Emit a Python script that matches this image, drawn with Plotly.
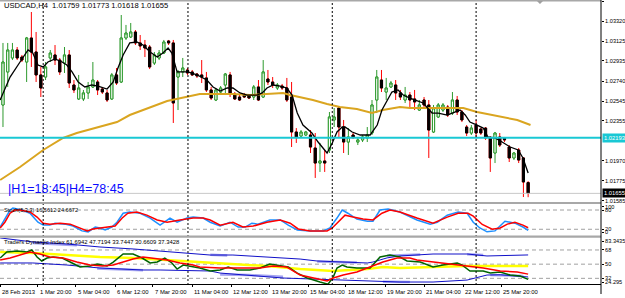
import plotly.graph_objects as go

# ---------------- data (H4 bars, index 0 = 28 Feb 2013 12:00) ----------------
opens = [1.02509,1.02828,1.02963,1.03040,1.02972,1.02924,1.03156,1.03021,1.02799,1.02779,
         1.02963,1.02992,1.02943,1.02914,1.02992,1.02702,1.02567,1.02567,1.02625,1.02683,
         1.02731,1.02663,1.02625,1.02567,1.02799,1.02731,1.03156,1.03166,1.03214,1.03108,
         1.03088,1.03069,1.02914,1.02963,1.03011,1.03127,1.03108,1.02779,1.02828,1.02847,
         1.02828,1.02808,1.02799,1.02770,1.02654,1.02557,1.02634,1.02702,1.02799,1.02615,
         1.02586,1.02605,1.02605,1.02586,1.02683,1.02586,1.02760,1.02731,1.02673,1.02692,
         1.02673,1.02586,1.02248,1.02209,1.02219,1.02219,1.02093,1.01948,1.01968,1.02074,
         1.02364,1.02480,1.02296,1.02151,1.02219,1.02151,1.02171,1.02190,1.02238,1.02557,
         1.02750,1.02634,1.02683,1.02702,1.02625,1.02557,1.02605,1.02567,1.02460,1.02557,
         1.02509,1.02248,1.02393,1.02460,1.02489,1.02431,1.02557,1.02441,1.02296,1.02238,
         1.02315,1.02277,1.02286,1.02190,1.02045,1.02200,1.02190,1.02103,1.01997,1.02074,
         1.01997,1.01759]
highs = [1.03108,1.03108,1.03108,1.03069,1.02992,1.03166,1.03407,1.03214,1.02876,1.02924,
         1.03040,1.03088,1.02963,1.03069,1.03040,1.02750,1.02799,1.02654,1.02731,1.02924,
         1.02750,1.02683,1.02654,1.02818,1.02866,1.03378,1.03282,1.03301,1.03233,1.03185,
         1.03137,1.03088,1.03021,1.03040,1.03137,1.03137,1.03137,1.02847,1.02963,1.02866,
         1.02847,1.02818,1.02943,1.02828,1.02683,1.02673,1.02692,1.02818,1.02828,1.02634,
         1.02605,1.02625,1.02615,1.02702,1.02750,1.02943,1.02847,1.02779,1.02721,1.02712,
         1.02770,1.02731,1.02286,1.02267,1.02258,1.02267,1.02238,1.02142,1.02074,1.02441,
         1.02480,1.02489,1.02364,1.02286,1.02238,1.02200,1.02219,1.02296,1.02557,1.02847,
         1.02847,1.02770,1.02741,1.02750,1.02654,1.02683,1.02634,1.02654,1.02557,1.02586,
         1.02557,1.02509,1.02528,1.02528,1.02509,1.02634,1.02596,1.02460,1.02315,1.02315,
         1.02364,1.02286,1.02296,1.02209,1.02248,1.02238,1.02200,1.02122,1.02055,1.02093,
         1.02006,1.01773]
lows = [1.02296,1.02683,1.02943,1.02943,1.02924,1.02731,1.02876,1.02731,1.02586,1.02750,
        1.02924,1.02895,1.02799,1.02818,1.02673,1.02625,1.02557,1.02547,1.02567,1.02673,
        1.02605,1.02615,1.02538,1.02557,1.02702,1.02721,1.03137,1.03156,1.03088,1.03040,
        1.02972,1.02856,1.02895,1.02943,1.03001,1.03088,1.02335,1.02460,1.02779,1.02799,
        1.02789,1.02770,1.02721,1.02634,1.02557,1.02547,1.02605,1.02605,1.02586,1.02557,
        1.02547,1.02576,1.02567,1.02557,1.02547,1.02576,1.02702,1.02673,1.02654,1.02654,
        1.02538,1.02103,1.02142,1.02190,1.02209,1.02045,1.01804,1.01862,1.01862,1.02045,
        1.02296,1.02200,1.02045,1.02026,1.02180,1.02122,1.02151,1.02151,1.02219,1.02431,
        1.02634,1.02557,1.02673,1.02557,1.02557,1.02528,1.02480,1.02460,1.02451,1.02489,
        1.01997,1.02238,1.02383,1.02441,1.02393,1.02412,1.02412,1.02344,1.02209,1.02219,
        1.02200,1.02219,1.02171,1.01862,1.01948,1.02103,1.02151,1.01958,1.01977,1.01948,
        1.01620,1.01618]
closes = [1.02924,1.03040,1.03040,1.02963,1.02943,1.03156,1.03021,1.02799,1.02673,1.02876,
          1.03011,1.02943,1.02828,1.02992,1.02721,1.02654,1.02673,1.02625,1.02683,1.02750,
          1.02654,1.02634,1.02557,1.02799,1.02721,1.03156,1.03204,1.03214,1.03108,1.03079,
          1.03059,1.02876,1.02992,1.03011,1.03117,1.03108,1.02528,1.02828,1.02866,1.02818,
          1.02799,1.02789,1.02779,1.02654,1.02576,1.02654,1.02673,1.02808,1.02625,1.02567,
          1.02557,1.02586,1.02576,1.02683,1.02557,1.02828,1.02731,1.02702,1.02702,1.02673,
          1.02557,1.02248,1.02200,1.02248,1.02248,1.02103,1.01948,1.01968,1.01948,1.02393,
          1.02393,1.02296,1.02151,1.02200,1.02200,1.02171,1.02200,1.02219,1.02509,1.02779,
          1.02673,1.02673,1.02721,1.02625,1.02586,1.02605,1.02557,1.02538,1.02509,1.02509,
          1.02267,1.02480,1.02509,1.02509,1.02412,1.02557,1.02441,1.02364,1.02238,1.02286,
          1.02238,1.02238,1.02190,1.01997,1.02238,1.02122,1.02171,1.01997,1.02045,1.01977,
          1.01765,1.01655]
bars = list(range(len(opens)))

# fast MA (black) and slow MA (orange): (bar, price)
ma_fast_x = [-0.6,1.5,3.6,5.3,6.3,7.4,8.5,9.5,11.0,12.5,13.5,14.6,15.9,17.3,18.8,20.1,22.0,23.3,24.3,25.4,
             26.8,28.3,29.6,31.1,32.6,33.8,34.9,35.7,36.8,37.8,39.1,41.0,43.1,44.4,45.9,47.4,48.6,50.1,51.6,53.7,
             54.8,55.8,57.1,58.6,60.0,61.1,62.2,63.4,65.3,66.6,68.5,69.6,70.6,71.7,72.3,73.8,75.5,77.6,79.1,80.1,
             81.2,82.2,83.5,84.6,86.0,88.8,90.7,92.0,93.9,95.1,96.6,97.7,98.7,100.2,101.5,102.5,104.0,105.5,107.2,108.9,
             109.9,111.0]
ma_fast_y = [1.02557,1.02779,1.02924,1.03040,1.03011,1.02895,1.02876,1.02924,1.02953,1.02924,1.02895,1.02828,1.02731,1.02683,1.02702,1.02692,1.02663,1.02731,1.02866,1.02992,
             1.03108,1.03117,1.03088,1.03021,1.02972,1.03011,1.03059,1.03011,1.02828,1.02828,1.02828,1.02799,1.02750,1.02683,1.02644,1.02673,1.02673,1.02625,1.02605,1.02605,
             1.02625,1.02673,1.02702,1.02692,1.02673,1.02605,1.02431,1.02315,1.02238,1.02151,1.02045,1.02142,1.02248,1.02296,1.02296,1.02248,1.02219,1.02219,1.02315,1.02460,
             1.02557,1.02634,1.02654,1.02605,1.02576,1.02528,1.02431,1.02431,1.02412,1.02431,1.02460,1.02412,1.02344,1.02315,1.02286,1.02200,1.02190,1.02151,1.02103,1.02074,
             1.01997,1.01852]
ma_slow_x = [-0.6,3.6,8.5,12.7,15.6,20.5,24.1,26.8,31.1,34.7,41.6,48.6,52.2,55.8,59.2,60.7,65.5,68.5,71.2,74.8,
             78.0,80.3,83.9,86.0,97.3,100.2,105.1,108.7,111.5]
ma_slow_y = [1.01784,1.01910,1.02074,1.02190,1.02238,1.02296,1.02344,1.02412,1.02489,1.02547,1.02615,1.02615,1.02605,1.02615,1.02625,1.02605,1.02557,1.02518,1.02489,1.02470,
             1.02431,1.02460,1.02489,1.02480,1.02480,1.02441,1.02393,1.02364,1.02315]

level_price = 1.02193
bid_price = 1.01655
price_ticks = [1.03510,1.03320,1.03125,1.02935,1.02740,1.02545,1.02355,1.01970,1.01775,1.01585]

# Stochastic
stk_x = [-0.6,1.5,2.1,4.0,5.7,7.4,8.5,9.9,11.0,13.1,14.8,16.7,18.0,19.5,20.5,21.6,23.0,24.1,25.4,26.8,
         29.0,31.1,33.2,34.7,35.3,36.8,38.9,40.2,42.3,43.8,45.9,48.0,49.7,51.2,52.6,53.9,56.4,58.6,60.3,62.2,
         64.9,67.7,69.1,70.6,71.7,72.9,74.8,77.0,78.2,79.7,81.4,83.9,86.0,87.5,90.3,91.8,93.9,96.2,98.1,99.4,
         100.8,102.3,104.0,106.1,108.2,109.9,111.0]
stk_y = [27,80,86,80,70,42,33,33,39,36,30,15,12,27,24,18,27,42,70,74,
         70,55,33,49,55,42,55,58,55,42,30,42,27,27,39,36,49,49,33,18,
         15,15,24,55,80,70,52,45,45,80,83,74,58,49,36,42,64,74,70,42,
         24,12,15,45,39,27,16.5612]
std_x = [-0.6,0.4,1.5,2.5,3.6,5.7,7.2,8.5,9.9,12.1,14.2,16.3,17.8,19.0,21.1,23.7,25.2,26.4,28.3,30.4,
         32.6,34.7,37.4,40.2,42.3,43.8,45.9,48.6,50.7,52.9,55.8,58.6,60.7,62.4,64.9,68.5,69.6,70.8,72.3,74.0,
         76.1,78.2,80.1,81.8,83.9,87.5,90.9,93.9,96.2,98.3,99.4,101.3,103.4,105.1,106.6,108.2,109.9,111.0]
std_y = [24,42,70,80,80,74,58,39,36,39,36,24,15,21,24,30,55,70,74,64,
         49,42,49,55,55,49,33,42,27,30,42,49,39,21,15,15,24,42,64,58,
         52,49,70,80,74,55,39,58,70,70,61,35,20,24,36,42,33,24.6672]
# scale labels as MT4 prints them (edge labels sit just inside the window)
stoch_label_pos = [90, 80, 20, 11]
stoch_label_text = ["100", "80", "20", "0"]

# Traders Dynamic Index
tdi_up_x = [-0.6,2.9,6.3,13.5,20.5,27.5,34.7,38.9,43.8,48.6,55.8,62.8,66.4,73.4,77.0,78.2,81.2,83.9,90.9,98.1,102.3,111.0]
tdi_up_y = [83.3,80.7,78.2,75.6,71.8,69.3,65.5,64.2,61.6,61.6,59.1,56.5,54.0,52.7,51.5,52.7,58.0,60.4,62.9,62.9,60.4,61.6942]
tdi_lo_x = [-0.6,6.3,13.5,20.5,29.6,33.2,43.8,45.9,59.2,69.8,77.0,83.9,90.9,98.1,102.3,105.1,111.0]
tdi_lo_y = [51.5,51.5,48.9,45.1,42.6,42.6,41.3,38.7,32.4,29.8,28.6,27.3,27.3,29.8,36.2,36.5,33.7447]
tdi_up2_x = [6.3,15.6,None,43.8,47.4,None,66.4,74.8,None,81.2,88.2,None,98.1,101.5]
tdi_up2_y = [77.0,74.0,None,62.0,61.0,None,53.5,52.0,None,60.8,62.2,None,62.5,61.5]
tdi_lo2_x = [19.9,29.6,None,45.9,52.0,59.2,None,80.3,86.0,None,103.0,110.0]
tdi_lo2_y = [44.5,42.2,None,37.0,36.2,34.0,None,27.6,27.3,None,36.2,35.0]
tdi_mid_x = [-0.6,6.3,13.5,20.5,27.5,34.7,43.8,48.6,55.8,62.8,66.4,69.8,73.4,77.0,80.3,83.9,90.9,98.1,111.0]
tdi_mid_y = [65.5,64.2,61.6,59.1,57.8,55.3,51.5,50.2,47.6,43.8,42.6,41.3,42.6,43.8,46.4,45.1,46.4,47.6,47.7194]
tdi_rsi_x = [-0.6,0.8,3.0,5.1,6.1,7.2,8.2,9.3,10.6,12.5,14.2,16.3,18.4,19.9,22.0,23.3,25.4,27.5,29.4,31.1,
             32.6,34.2,35.7,36.8,38.1,40.2,41.6,43.8,45.9,47.6,49.5,52.2,54.3,56.4,58.6,60.3,62.2,64.3,67.0,68.7,
             69.8,70.6,71.7,72.7,74.8,77.6,79.7,81.8,83.9,85.4,88.2,90.9,93.0,96.0,97.0,98.7,101.5,103.0,105.1,107.2,
             109.3,111.0]
tdi_rsi_y = [57.8,65.5,66.7,65.5,68.0,59.1,54.0,57.8,59.1,57.8,52.7,46.4,47.6,50.2,47.6,52.7,62.9,62.9,57.8,51.5,
             52.7,57.8,51.5,43.8,48.9,46.4,45.1,41.3,42.6,46.4,42.6,42.6,45.1,50.2,47.6,46.4,38.7,32.4,27.3,24.5,
             33.6,45.1,48.9,46.4,45.1,45.1,59.1,61.6,59.1,54.0,52.7,46.4,48.9,51.5,48.9,41.3,41.3,38.7,40.0,36.2,
             34.9,30.6609]
tdi_sig_x = [-0.6,1.5,3.6,5.7,7.8,9.9,12.7,15.6,18.4,21.1,23.3,25.4,27.5,29.6,31.7,34.7,37.4,40.2,41.6,45.9,
             50.1,54.3,57.1,60.0,62.8,65.5,68.5,69.8,71.9,74.8,77.6,80.3,83.3,86.0,87.5,90.9,94.5,98.1,101.5,105.1,
             108.7,111.0]
tdi_sig_y = [55.3,57.8,61.6,65.5,62.9,59.1,57.8,52.7,48.9,47.6,48.9,52.7,56.5,59.1,57.8,55.3,51.5,48.9,46.4,45.1,
             45.1,45.1,47.6,46.4,36.2,32.4,28.6,32.4,36.2,40.0,46.4,52.7,57.8,57.8,55.3,52.7,50.2,47.6,45.1,41.3,
             40.0,37.3428]
tdi_min, tdi_max = 24.295, 83.3435
tdi_label_pos = [79.2, 68, 50, 32, 26.9]
tdi_label_text = ["83.3435", "68", "50", "32", "24.295"]

# time axis labels (bar positions) and weekly separators
time_label_x = [-0.6,7.4,15.4,23.7,31.7,40.0,48.2,56.4,64.5,72.5,80.8,89.0,97.3,105.3]
time_labels = ["28 Feb 2013","1 Mar 20:00","5 Mar 04:00","6 Mar 12:00","7 Mar 20:00","11 Mar 04:00",
               "12 Mar 12:00","13 Mar 20:00","15 Mar 04:00","18 Mar 12:00","19 Mar 20:00","21 Mar 04:00",
               "22 Mar 12:00","25 Mar 20:00"]
week_sep_x = [8.5, 39.1, 69.6, 100.0]

title_main = "USDCAD,H4  1.01759 1.01773 1.01618 1.01655"
title_stoch = "Stoch(5,3,3) 16.5612 24.6672"
title_tdi = "Traders Dynamic Index 61.6942 47.7194 33.7447 30.6609 37.3428"
timer_text = "|H1=18:45|H4=78:45"

# ---------------- figure ----------------
PH = 285.0  # plot-area height in px
PW = 601.0
def py(p):
    return 1 - p / PH

FONT = "Liberation Sans"
fig = go.Figure()

fig.add_trace(go.Candlestick(
    x=bars, open=opens, high=highs, low=lows, close=closes,
    increasing=dict(line=dict(color="#2e9a2e", width=1), fillcolor="white"),
    decreasing=dict(line=dict(color="#ff0000", width=1), fillcolor="black"),
    whiskerwidth=0, hoverinfo="skip", showlegend=False, xaxis="x", yaxis="y"))
body_hi = [max(o, c) for o, c in zip(opens, closes)]
body_lo = [min(o, c) for o, c in zip(opens, closes)]
fig.add_trace(go.Candlestick(
    x=bars, open=opens, high=body_hi, low=body_lo, close=closes,
    increasing=dict(line=dict(color="#2e9a2e", width=1), fillcolor="white"),
    decreasing=dict(line=dict(color="black", width=1), fillcolor="black"),
    whiskerwidth=0, hoverinfo="skip", showlegend=False, xaxis="x", yaxis="y"))
fig.add_trace(go.Scatter(x=ma_slow_x, y=ma_slow_y, mode="lines",
                         line=dict(color="#DAA520", width=2), showlegend=False, xaxis="x", yaxis="y"))
fig.add_trace(go.Scatter(x=ma_fast_x, y=ma_fast_y, mode="lines",
                         line=dict(color="black", width=1.3), showlegend=False, xaxis="x", yaxis="y"))

# stochastic
fig.add_trace(go.Scatter(x=stk_x, y=stk_y, mode="lines", line=dict(color="#1E90FF", width=1.5),
                         showlegend=False, xaxis="x", yaxis="y2"))
fig.add_trace(go.Scatter(x=std_x, y=std_y, mode="lines", line=dict(color="#FF0000", width=1.5),
                         showlegend=False, xaxis="x", yaxis="y2"))

# TDI
for xs, ys, col, w in [(tdi_up2_x, tdi_up2_y, "#A4A4F0", 2.5), (tdi_lo2_x, tdi_lo2_y, "#A4A4F0", 2.5),
                       (tdi_up_x, tdi_up_y, "#1010C8", 1), (tdi_lo_x, tdi_lo_y, "#1010C8", 1),
                       (tdi_mid_x, tdi_mid_y, "#FFFF00", 2.5), (tdi_rsi_x, tdi_rsi_y, "#006400", 1.5),
                       (tdi_sig_x, tdi_sig_y, "#FF0000", 1.5)]:
    fig.add_trace(go.Scatter(x=xs, y=ys, mode="lines", line=dict(color=col, width=w),
                             showlegend=False, xaxis="x", yaxis="y3", connectgaps=False))

shapes = []
# level lines in sub windows
for v in (80, 20):
    shapes.append(dict(type="line", xref="paper", x0=0, x1=1, yref="y2", y0=v, y1=v,
                       line=dict(color="#a0a0a0", width=1, dash="4px,3px"), layer="below"))
for v in (68, 50, 32):
    shapes.append(dict(type="line", xref="paper", x0=0, x1=1, yref="y3", y0=v, y1=v,
                       line=dict(color="#a0a0a0", width=1, dash="4px,3px"), layer="below"))
# horizontal price lines
shapes.append(dict(type="line", xref="paper", x0=0, x1=1, yref="y", y0=bid_price, y1=bid_price,
                   line=dict(color="#c8c8c8", width=1)))
shapes.append(dict(type="line", xref="paper", x0=0, x1=1, yref="y", y0=level_price, y1=level_price,
                   line=dict(color="#19C8D4", width=2)))
# weekly separators
for xv in week_sep_x:
    shapes.append(dict(type="line", xref="x", x0=xv, x1=xv, yref="paper", y0=0, y1=1,
                       line=dict(color="black", width=1, dash="2px,2px")))
# window separators / borders
shapes.append(dict(type="rect", xref="paper", x0=0, x1=1, yref="paper", y0=py(204), y1=py(202),
                   fillcolor="#a8a8a8", line=dict(width=0)))
shapes.append(dict(type="rect", xref="paper", x0=0, x1=1, yref="paper", y0=py(237.8), y1=py(235.6),
                   fillcolor="#a8a8a8", line=dict(width=0)))
shapes.append(dict(type="rect", xref="paper", x0=0, x1=1, yref="paper", y0=py(1.6), y1=1,
                   fillcolor="#a8a8a8", line=dict(width=0)))
shapes.append(dict(type="line", xref="paper", x0=1, x1=1, yref="paper", y0=py(294), y1=1,
                   line=dict(color="black", width=1)))
# chart-shift marker
shapes.append(dict(type="path", xref="x", xsizemode="pixel", xanchor=113.5,
                   yref="paper", ysizemode="pixel", yanchor=1,
                   path="M -3,-1 L 3,-1 L 0,-4 Z", fillcolor="#a0a0a0", line=dict(width=0)))

annotations = []
annotations.append(dict(text=title_main, xref="paper", yref="paper", x=2 / PW, y=py(5.5),
                        xanchor="left", yanchor="middle", showarrow=False,
                        font=dict(family=FONT, size=7.6, color="black")))
annotations.append(dict(text=timer_text, xref="paper", yref="paper", x=6 / PW, y=py(189),
                        xanchor="left", yanchor="middle", showarrow=False,
                        font=dict(family=FONT, size=12.5, color="#0a0aff")))
annotations.append(dict(text=title_stoch, xref="paper", yref="paper", x=2 / PW, y=py(210),
                        xanchor="left", yanchor="middle", showarrow=False,
                        font=dict(family=FONT, size=5.6, color="black")))
annotations.append(dict(text=title_tdi, xref="paper", yref="paper", x=2 / PW, y=py(242),
                        xanchor="left", yanchor="middle", showarrow=False,
                        font=dict(family=FONT, size=5.9, color="black")))
annotations.append(dict(text="%.5f" % level_price, xref="paper", yref="y", x=1, y=level_price,
                        xanchor="left", yanchor="middle", showarrow=False, xshift=1,
                        bgcolor="#19C8D4", borderpad=1,
                        font=dict(family=FONT, size=5.8, color="white")))
annotations.append(dict(text="%.5f" % bid_price, xref="paper", yref="y", x=1, y=bid_price,
                        xanchor="left", yanchor="middle", showarrow=False, xshift=1,
                        bgcolor="black", borderpad=1,
                        font=dict(family=FONT, size=5.8, color="white")))
for xv, t in zip(time_label_x, time_labels):
    annotations.append(dict(text=t, xref="x", yref="paper", x=xv, y=py(292),
                            xanchor="left", yanchor="middle", showarrow=False,
                            font=dict(family=FONT, size=5.9, color="black")))

yfont = dict(family=FONT, size=5.6, color="black")
fig.update_layout(
    width=625, height=298, margin=dict(l=0, r=24, t=0, b=13),
    paper_bgcolor="white", plot_bgcolor="white",
    showlegend=False, boxgap=0.35,
    xaxis=dict(domain=[0, 1], range=[-0.63, 126.4], anchor="y3", showgrid=False, zeroline=False,
               showline=True, linecolor="black", linewidth=1, ticks="outside", ticklen=2,
               tickcolor="black", tickvals=time_label_x, showticklabels=False,
               rangeslider=dict(visible=False), fixedrange=True),
    yaxis=dict(domain=[py(202), py(1)], range=[1.03523 - 202 * 0.0000966, 1.03523 - 1 * 0.0000966],
               side="right", anchor="x", showgrid=False, zeroline=False, ticks="outside", ticklen=2,
               tickcolor="black", tickvals=price_ticks, ticktext=["%.5f" % v for v in price_ticks],
               tickfont=yfont),
    yaxis2=dict(domain=[py(235.7), py(203.6)], range=[0, 100], side="right", anchor="x",
                showgrid=False, zeroline=False, ticks="outside", ticklen=2, tickcolor="black",
                tickvals=stoch_label_pos, ticktext=stoch_label_text, tickfont=yfont),
    yaxis3=dict(domain=[py(284.4), py(237.9)], range=[tdi_min, tdi_max], side="right", anchor="x",
                showgrid=False, zeroline=False, ticks="outside", ticklen=2, tickcolor="black",
                tickvals=tdi_label_pos, ticktext=tdi_label_text, tickfont=yfont),
    shapes=shapes, annotations=annotations,
)

fig.write_html("out.html")
